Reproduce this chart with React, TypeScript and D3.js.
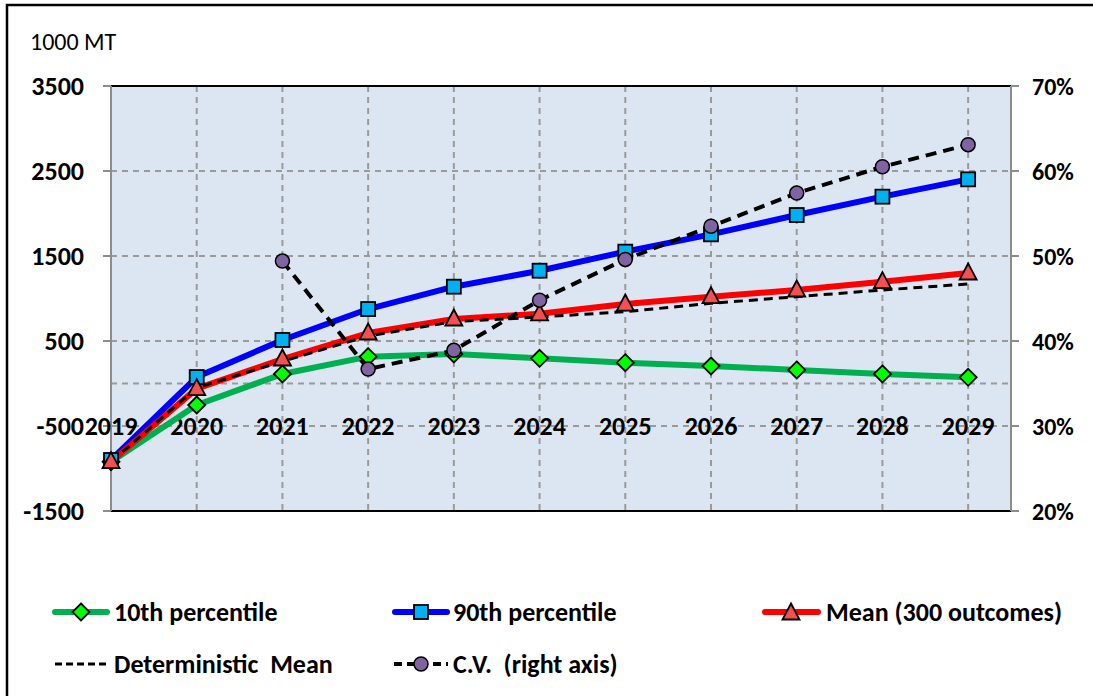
import React from "react";
import * as d3 from "d3";

const years = [2019, 2020, 2021, 2022, 2023, 2024, 2025, 2026, 2027, 2028, 2029];
const p10 = [-920, -253, 112, 316, 347, 296, 245, 206, 159, 112, 73];
const p90 = [-900, 76, 512, 876, 1139, 1327, 1551, 1755, 1982, 2198, 2402];
const meanVals = [-920, -60, 288, 594, 759, 820, 935, 1021, 1100, 1198, 1300];
const detMean = [-920, -50, 260, 559, 727, 782, 845, 943, 1021, 1100, 1171];
const cvVals: (number | null)[] = [null, null, 49.4, 36.7, 38.9, 44.8, 49.6, 53.5, 57.4, 60.5, 63.1];
const leftTicks = [3500, 2500, 1500, 500, -500, -1500];
const rightTicks = [70, 60, 50, 40, 30, 20];
const hGrid = [2500, 1500, 500, 0, -500];

const W = 1093, H = 696;
const L = 111, R = 1011, T = 86, B = 511;
const FONT = "Carlito, Calibri, Lato, 'Open Sans', sans-serif";

export default function App() {
  const x = d3.scaleLinear().domain([2019, 2029.5]).range([L, R]);
  const y = d3.scaleLinear().domain([-1500, 3500]).range([B, T]);
  const y2 = d3.scaleLinear().domain([20, 70]).range([B, T]);

  const line = (vals: number[]) =>
    d3.line<number>().x((_, i) => x(years[i])).y((v) => y(v))(vals) || "";
  const cvPts = years
    .map((yr, i) => ({ yr, v: cvVals[i] }))
    .filter((d) => d.v !== null) as { yr: number; v: number }[];
  const cvLine = d3.line<{ yr: number; v: number }>().x((d) => x(d.yr)).y((d) => y2(d.v))(cvPts) || "";

  const diamond = (cx: number, cy: number, k: string) => (
    <path key={k} d={`M${cx},${cy - 8.5} L${cx + 8.5},${cy} L${cx},${cy + 8.5} L${cx - 8.5},${cy} Z`} fill="#00ff00" stroke="#000" strokeWidth={1.8} />
  );
  const square = (cx: number, cy: number, k: string) => (
    <rect key={k} x={cx - 7} y={cy - 7} width={14} height={14} fill="#00b0f0" stroke="#000" strokeWidth={1.8} />
  );
  const tri = (cx: number, cy: number, k: string) => (
    <path key={k} d={`M${cx},${cy - 9.5} L${cx + 8.5},${cy + 6.5} L${cx - 8.5},${cy + 6.5} Z`} fill="#f55050" stroke="#000" strokeWidth={1.8} />
  );
  const circ = (cx: number, cy: number, k: string) => (
    <circle key={k} cx={cx} cy={cy} r={7} fill="#8064a2" stroke="#000" strokeWidth={1.5} />
  );

  const gridStyle = { stroke: "#9a9a9a", strokeWidth: 2, strokeDasharray: "6,5" };
  const pre = { whiteSpace: "pre" as const };

  return (
    <svg width={W} height={H} style={{ position: "absolute", left: 0, top: 0 }} fontFamily={FONT}>
      <rect x={0} y={0} width={W} height={H} fill="#fff" />
      <rect x={7} y={5} width={W + 20} height={H + 20} fill="none" stroke="#000" strokeWidth={2.5} />
      <text x={30} y={50} fontSize={24} fill="#000">1000 MT</text>

      <rect x={L} y={T} width={R - L} height={B - T} fill="#dce6f2" />
      {hGrid.map((v) => (
        <line key={"h" + v} x1={L} x2={R} y1={y(v)} y2={y(v)} {...gridStyle} />
      ))}
      {years.slice(1).map((yr) => (
        <line key={"v" + yr} x1={x(yr)} x2={x(yr)} y1={T} y2={B} {...gridStyle} />
      ))}
      <line x1={L} x2={R} y1={T} y2={T} stroke="#000" strokeWidth={2} />
      <line x1={L} x2={R} y1={B} y2={B} stroke="#000" strokeWidth={2} />
      <line x1={L} x2={L} y1={T} y2={B} stroke="#8c8c8c" strokeWidth={2} />
      <line x1={R} x2={R} y1={T} y2={B} stroke="#8c8c8c" strokeWidth={2} />

      {leftTicks.map((v) => (
        <g key={"lt" + v}>
          <line x1={L - 8} x2={L} y1={y(v)} y2={y(v)} stroke="#8c8c8c" strokeWidth={2} />
          <text x={84} y={y(v)} dy="0.36em" textAnchor="end" fontSize={26} fontWeight="bold">{v}</text>
        </g>
      ))}
      {rightTicks.map((v) => (
        <g key={"rt" + v}>
          <line x1={R} x2={R + 8} y1={y2(v)} y2={y2(v)} stroke="#8c8c8c" strokeWidth={2} />
          <text x={1032} y={y2(v)} dy="0.36em" textAnchor="start" fontSize={24} fontWeight="bold">{v}%</text>
        </g>
      ))}
      {years.map((yr) => (
        <text key={"x" + yr} x={x(yr)} y={y(-500)} dy="0.36em" textAnchor="middle" fontSize={26} fontWeight="bold">{yr}</text>
      ))}

      <path d={line(p10)} fill="none" stroke="#00b050" strokeWidth={6} strokeLinejoin="round" />
      <path d={line(p90)} fill="none" stroke="#0000ff" strokeWidth={6} strokeLinejoin="round" />
      <path d={line(meanVals)} fill="none" stroke="#ff0000" strokeWidth={6} strokeLinejoin="round" />
      <path d={line(detMean)} fill="none" stroke="#000" strokeWidth={3} strokeDasharray="9,6" />
      <path d={cvLine} fill="none" stroke="#000" strokeWidth={4} strokeDasharray="11,7" />

      {p10.map((v, i) => diamond(x(years[i]), y(v), "d" + i))}
      {p90.map((v, i) => square(x(years[i]), y(v), "s" + i))}
      {meanVals.map((v, i) => tri(x(years[i]), y(v), "t" + i))}
      {cvPts.map((d, i) => circ(x(d.yr), y2(d.v), "c" + i))}

      {/* Legend */}
      <g fontWeight={600}>
        <line x1={55} x2={107} y1={612} y2={612} stroke="#00b050" strokeWidth={6} strokeLinecap="round" />
        {diamond(81, 612, "ld")}
        <text x={114} y={612} dy="0.36em" fontSize={26} style={pre}>10th percentile</text>

        <line x1={395} x2={447} y1={612} y2={612} stroke="#0000ff" strokeWidth={6} strokeLinecap="round" />
        {square(421, 612, "ls")}
        <text x={453} y={612} dy="0.36em" fontSize={26} style={pre}>90th percentile</text>

        <line x1={765} x2={818} y1={612} y2={612} stroke="#ff0000" strokeWidth={6} strokeLinecap="round" />
        {tri(791, 613, "lt")}
        <text x={826} y={612} dy="0.36em" fontSize={26} style={pre}>Mean (300 outcomes)</text>

        <line x1={55} x2={108} y1={664} y2={664} stroke="#000" strokeWidth={3} strokeDasharray="7,4" />
        <text x={114} y={664} dy="0.36em" fontSize={26} style={pre}>Deterministic  Mean</text>

        <line x1={394} x2={448} y1={664} y2={664} stroke="#000" strokeWidth={4} strokeDasharray="8,5" />
        {circ(421, 664, "lc")}
        <text x={453} y={664} dy="0.36em" fontSize={26} style={pre}>C.V.  (right axis)</text>
      </g>
    </svg>
  );
}
